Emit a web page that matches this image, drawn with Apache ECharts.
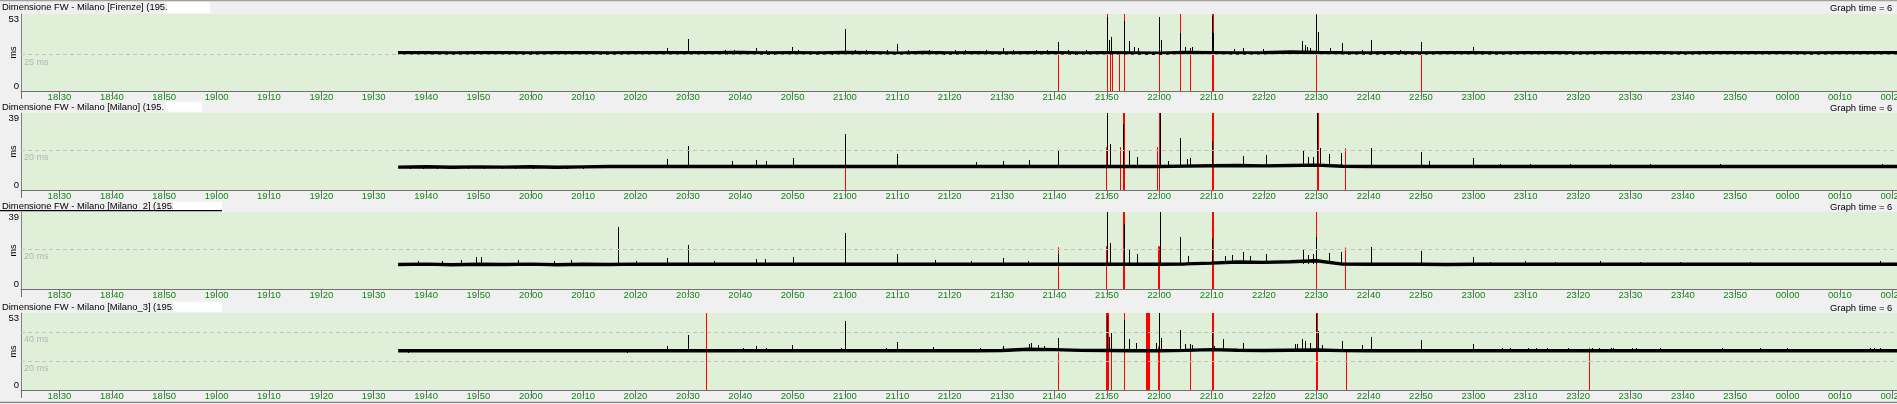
<!DOCTYPE html>
<html><head><meta charset="utf-8">
<script src="https://cdn.jsdelivr.net/npm/echarts@6/dist/echarts.min.js"></script>
<style>html,body{margin:0;padding:0;background:#f0f0f0;overflow:hidden}#c{width:1897px;height:404px}</style>
</head><body><div id="c"></div>
<script>
// ---------- DATA (times in minutes counted from 18:00) ----------
const tickLabels = ["18:30","18:40","18:50","19:00","19:10","19:20","19:30","19:40","19:50","20:00","20:10","20:20","20:30","20:40","20:50","21:00","21:10","21:20","21:30","21:40","21:50","22:00","22:10","22:20","22:30","22:40","22:50","23:00","23:10","23:20","23:30","23:40","23:50","00:00","00:10","00:20"];
const panelTitles = ["Dimensione FW - Milano [Firenze] (195.","Dimensione FW - Milano [Milano] (195.","Dimensione FW - Milano [Milano_2] (195.","Dimensione FW - Milano [Milano_3] (195."];
const graphTimeText = "Graph time = 6";
const panelMax = [53, 39, 39, 53];
const refLines = [[25], [20], [20], [20, 40]];
const axisStart = "18:22:39";
const axisEnd = "00:20:54";

const baseTimes = ["19:34:40","19:40","19:45","19:50","19:55","20:00","20:05","20:10","20:15","20:20","20:25","20:30","20:35","20:40","20:45","20:50","20:55","21:00","21:05","21:10","21:15","21:20","21:25","21:30","21:35","21:40","21:45","21:50","21:55","22:00","22:05","22:10","22:15","22:20","22:25","22:30","22:35","22:40","22:45","22:50","22:55","23:00","23:05","23:10","23:15","23:20","23:25","23:30","23:35","23:40","23:45","23:50","23:55","00:00","00:05","00:10","00:15","00:20","00:25"];

const base1 = [26.3,26.3,26.2,26.3,26.3,26.2,26.3,26.3,26.2,26.3,26.3,26.3,26.3,
  26.5,26.2,26.4,26.2,26.5,26.3,26.1,26.5,26.2,26.4,26.2,26.4,26.3,26.2,26.4,26.2,
  26.0,26.6,26.4,26.2,26.3,26.8,26.5,26.3,26.2,26.3,26.2,26.3,26.3,
  26.2,26.3,26.3,26.2,26.3,26.3,26.3,26.2,26.3,26.3,26.3,26.3,26.2,26.3,26.3,26.3,26.3];
const base2 = [11.6,11.8,11.5,11.7,11.6,11.8,11.5,11.7,11.9,11.9,11.9,11.9,11.9,
  11.9,11.9,11.9,11.9,11.9,11.9,11.9,11.9,11.9,11.9,11.9,11.9,11.9,11.9,11.9,11.9,
  11.9,12.1,12.3,12.4,12.2,12.4,12.6,12.0,11.9,11.9,11.9,11.9,11.9,
  11.9,11.9,11.9,11.9,11.9,11.9,11.9,11.9,11.9,11.9,11.9,11.9,11.9,11.9,11.9,11.9,11.9];
const base3 = [12.4,12.6,12.3,12.5,12.4,12.6,12.3,12.5,12.4,12.6,12.5,12.5,12.5,
  12.5,12.5,12.5,12.5,12.5,12.5,12.5,12.5,12.5,12.5,12.5,12.5,12.5,12.5,12.5,12.5,
  12.5,12.7,13.1,13.7,13.5,13.8,14.3,12.6,12.5,12.5,12.5,12.4,12.5,
  12.5,12.5,12.5,12.5,12.5,12.5,12.5,12.5,12.5,12.5,12.5,12.5,12.5,12.5,12.5,12.5,12.5];
const base4 = [27.0,27.0,27.0,27.0,27.0,27.0,27.0,27.0,27.0,27.0,27.0,27.0,27.0,
  27.0,27.0,27.1,27.0,27.1,27.0,27.1,27.0,27.1,27.0,27.2,28.0,27.8,27.3,27.2,27.0,
  27.0,27.3,27.8,27.4,27.2,27.4,27.5,27.1,27.0,27.0,27.0,27.0,27.0,
  27.0,27.0,27.0,27.0,27.0,27.0,27.0,27.0,27.0,27.0,27.0,27.0,27.0,27.0,27.0,27.0,27.0];

// spikes: [minute, ms]
const spikes1 = [[96.8,27.6],[101.7,27.6],[106.2,27.5],[109.0,27.6],[110.3,27.6],[114.2,27.5],[116.8,27.6],[120.1,27.6],[124.0,27.5],[128.2,27.6],[130.3,27.8],[131.5,27.6],[134.3,27.5],[137.6,27.6],[139.0,27.6],[141.9,27.6],[144.7,27.5],[146.0,29.5],[149.0,27.6],[150.0,35.7],[151.5,27.6],[154.2,27.5],
  [157.1,27.9],[158.8,28.2],[160.1,27.8],[161.0,24.9],[163.1,29.5],[165.0,27.9],[166.5,24.9],[169.9,30.4],[171.0,28.0],[173.0,24.9],[175.0,27.8],[177.5,24.9],[180.0,42.6],[182.0,28.2],[184.0,27.9],[186.0,24.9],[188.0,28.0],[190.0,32.3],[192.0,28.4],[194.0,24.9],[196.0,28.0],[199.0,24.9],[201.0,28.0],[203.0,27.9],[205.0,24.9],[207.0,28.1],[210.1,29.5],[212.0,28.0],[214.0,24.9],[216.5,28.0],[218.5,28.5],[220.7,33.8],
  [222.5,28.0],[224.0,24.9],[226.0,28.0],[228.0,27.8],
  [230.1,51.2],[230.5,35],[230.8,37.3],[233.2,48.4],[234.3,34.6],[235.2,30.5],[236.0,29.5],[240.05,51.1],[240.3,35],[244.0,39.7],[245.0,30],[245.8,29.5],[246.2,30],[250.0,51.8],[250.2,40],[254.2,28.8],[256.1,29.6],[259.9,28.8],[267.35,34.6],[267.9,32],[268.3,30.5],[268.8,29.5],[270.0,52.5],[270.4,40.8],[272.6,29.3],[274.9,33.2],[276.0,24.9],[278.7,28.5],[280.4,35],[283.0,24.9],[286.0,27.9],[290.0,33.9],[293.0,27.8],[296.0,24.9],[300.0,30],
  [303.2,27.6],[305.1,27.6],[307.0,27.5],[309.9,27.6],[310.8,27.6],[313.7,27.5],[315.6,27.6],[318.5,27.6],[320.4,27.5],[324.2,27.6],[326.1,27.6],[329.0,27.5],[331.9,27.6],[333.8,27.6],[335.7,27.5],[339.5,27.6],[347.1,27.5],[352.9,27.5],[377.7,27.6],[379.0,27.6]];
const spikes2 = [[97.0,10.7],[99.5,10.8],[102.0,10.7],[105.5,10.8],[108.0,10.7],[111.0,10.8],[114.5,10.7],[117.0,10.8],[120.5,10.7],[124.0,10.8],[127.0,10.7],[130.0,10.8],
  [146.0,15.5],[150.0,22.2],[158.4,14.8],[163.0,15.2],[165.0,14.5],[170.05,16.1],[180.06,28.5],[189.9,18.3],[205.1,14.3],[210.1,14.5],[215.2,15],[220.6,19.8],[230.1,39],[230.6,23.2],[233.06,33.2],[234.3,19.8],[235.8,16.9],[240.1,39],[241.6,14.5],[244.0,26.3],[245.4,15.5],[245.9,16],[250.1,24.6],[256.0,17.2],[260.4,17.8],[267.4,20.3],[268.5,16.9],[269.3,16.5],[270.2,39],[270.8,21.2],[272.5,18.1],[274.7,18.6],[280.4,21.2],[290.0,19.5],[291.5,14.7],[300.0,16.1],
  [305.1,13.3],[310.8,13.0],[318.5,13.2],[326.1,13.0],[333.8,13.3],[347.1,13.0],[378.0,13.2]];
const spikes3 = [[98.5,14.3],[100.5,11.3],[103.0,14.0],[104.5,11.4],[106.6,14.5],[109.6,16.2],[110.4,16.2],[113.0,11.3],[117.5,14.5],[121.0,11.4],[124.5,14.0],[127.6,14.5],[131.0,11.4],[136.7,31.3],[140.0,14.0],[143.0,11.4],[146.0,15.7],[150.0,22.2],[155.0,14.0],[160.0,11.5],[163.0,15.3],[164.8,15.0],[170.05,16.2],[175.0,11.5],[180.06,28.3],[189.9,17.8],[197.2,14.5],[204.0,14.0],[210.1,15.9],[215.0,14.2],[220.75,17.8],[230.1,38.9],[230.6,23.2],[233.2,33],[234.3,19.9],[235.8,17.8],[240.1,38.9],[244.0,26.3],[245.6,16.5],[250.1,26],[252.5,16.8],[254.0,17],[256.0,18.7],[257.4,16.5],[260.4,17.5],[267.4,20.3],[268.5,17],[269.3,17.5],[270.0,26.3],[272.5,18],[274.7,18.7],[280.4,21.2],[290.0,19.5],[300.0,16.2],
  [303.2,13.8],[309.9,14.0],[315.6,13.8],[324.2,14.0],[331.9,13.7],[339.5,13.9],[352.9,13.7],[377.7,14.0]];
const spikes4 = [[96.6,25.6],[102.1,28.3],[108.6,28.3],[120.1,28.3],[130.1,28.3],[138.4,25.6],[141.5,28.3],[144.7,28.3],[146.0,30.6],[150.0,37.7],[154.3,28.3],[158.4,28.3],[160.5,29],[163.1,30.6],[165.0,29],[166.6,28.5],[169.9,31.3],[176.2,28.3],[179.2,29],[180.06,47.3],[182.9,28.5],[187.8,29],[190.0,32.9],[194.3,28.5],[196.8,29.5],[201.7,28.5],[205.8,29],[210.1,30.6],[215.2,31.5],[215.6,32.3],[216.8,31],[218.0,30.5],[220.7,36],
  [230.0,51.2],[230.5,36.6],[230.75,39.3],[233.2,48.4],[234.3,35.2],[235.6,32.5],[239.4,32.5],[240.05,53],[240.3,36],[244.0,41.6],[245.0,31.5],[245.8,31.5],[246.2,31],[250.0,39.3],[250.4,30],[252.1,34.9],[256.0,32.6],[265.95,32],[266.4,31.5],[267.35,34.9],[267.9,33.4],[268.8,32.6],[270.03,52.5],[270.4,40.9],[271.05,31],[274.9,34],[278.7,31],[280.4,36.4],[290.0,34.2],[300.0,32],
  [305.5,29],[307.0,29],[310.5,29],[312.0,28.8],[314.0,29],[318.1,28.8],[322.7,29],[323.9,29],[326.2,29],[326.7,28.8],[330.3,29],[331.0,29],[335.7,29],[347.5,28.8],[354.8,28.8],[359.9,28.8],[375.7,29],[376.6,29],[377.6,29]];

// red markers: [minute, top ms] (drawn from 0 up to top)
const red1 = [[220.7,24.7],[230.1,53],[230.6,27],[230.95,27],[232.4,24.7],[233.2,53],[240.05,29.3],[244.0,53],[245.8,24.7],[250.0,53],[250.2,53],[270.0,53],[290.0,24.7]];
const red2 = [[180.06,11],[229.8,21.7],[232.5,21.7],[233.0,39],[233.2,39],[239.5,21.7],[240.05,39],[250.0,39],[250.2,39],[270.05,39],[270.25,39],[275.5,21.2]];
const red3 = [[220.75,21.2],[229.8,21.7],[233.0,39],[233.2,39],[239.8,21.7],[240.0,21.7],[250.0,39],[250.2,39],[270.0,39],[275.5,21]];
const red4 = [[153.5,53],[220.7,26],[229.9,53],[230.1,53],[230.3,53],[230.75,27.9],[233.2,53],[237.55,53],[237.75,53],[237.95,53],[238.15,53],[239.85,30],[240.05,30],[245.8,26.7],[250.0,53],[250.2,53],[270.0,53],[270.2,53],[275.6,26.7],[322.0,29]];

const bases = [base1, base2, base3, base4];
const spikes = [spikes1, spikes2, spikes3, spikes4];
const reds = [red1, red2, red3, red4];
const spikeBase = [26.3, 11.9, 12.5, 27.0];

// ---------- LAYOUT ----------
function toMin(s){ const p = s.split(':').map(Number); let h = p[0]; if (h < 18) h += 24; return (h-18)*60 + p[1] + (p[2]||0)/60; }
const FONT = "'Liberation Sans', Arial, sans-serif";
const tops = [14, 113, 212, 313];
const H = 77;
const titleY = [7.5, 107, 206.5, 307];
const tickVals = tickLabels.map(toMin);
const labelMap = {}; tickLabels.forEach((l,i)=>{ labelMap[tickVals[i].toFixed(2)] = l; });
const xMin = toMin(axisStart), xMax = toMin(axisEnd);

const grid = [], xAxis = [], yAxis = [], series = [], graphic = [];
for (let i = 0; i < 4; i++) {
  grid.push({left: 21, right: 0, top: tops[i], height: H, show: true, backgroundColor: '#e0f0d8', borderWidth: 0,
    containLabel: false, outerBoundsMode: 'none'});
  xAxis.push({type: 'value', gridIndex: i, min: xMin, max: xMax,
    axisLine: {show: true, lineStyle: {color: '#707070', width: 1}},
    axisTick: {show: true, length: 8, customValues: [xMin].concat(tickVals), lineStyle: {color: '#707070'}},
    axisLabel: {customValues: tickVals, color: '#0a8a0a', fontSize: 9.5, fontFamily: FONT, margin: 1,
      formatter: v => labelMap[Number(v).toFixed(2)] || ''},
    splitLine: {show: false}});
  yAxis.push({type: 'value', gridIndex: i, min: 0, max: panelMax[i], interval: panelMax[i],
    name: 'ms', nameLocation: 'middle', nameRotate: 90, nameGap: 3, nameMoveOverlap: false,
    nameTextStyle: {fontSize: 9, color: '#000', fontFamily: FONT},
    axisLine: {show: true, lineStyle: {color: '#808080'}},
    axisTick: {show: false},
    axisLabel: {fontSize: 9.5, color: '#000', fontFamily: FONT, margin: 2,
      verticalAlignMinLabel: 'bottom', verticalAlignMaxLabel: 'top'},
    splitLine: {show: false}});
  series.push({type: 'line', xAxisIndex: i, yAxisIndex: i, data: [], z: 1, silent: true,
    markLine: {silent: true, symbol: ['none','none'], animation: false,
      lineStyle: {type: [4,3], color: '#c2c2c2', width: 1},
      label: {show: true, position: 'insideStartBottom', formatter: p => p.value + ' ms',
        color: '#b4b4b4', fontSize: 9, fontFamily: FONT, distance: [3, 3]},
      data: refLines[i].map(v => ({yAxis: v}))}});
  series.push({type: 'custom', xAxisIndex: i, yAxisIndex: i, z: 2, clip: true, silent: true,
    encode: {x: 0, y: 1}, data: reds[i],
    renderItem: (params, api) => {
      const a = api.coord([api.value(0), 0]), b = api.coord([api.value(0), api.value(1)]);
      return {type: 'rect', shape: {x: Math.round(a[0]), y: b[1], width: 1, height: a[1] - b[1]}, style: {fill: '#ff0000'}};
    }});
  series.push({type: 'line', xAxisIndex: i, yAxisIndex: i, z: 3, clip: true, silent: true,
    data: baseTimes.map((t,k) => [toMin(t), bases[i][k]]),
    showSymbol: false, symbol: 'none', lineStyle: {color: '#000', width: 3.4}, animation: false});
  const sb = spikeBase[i];
  series.push({type: 'custom', xAxisIndex: i, yAxisIndex: i, z: 4, clip: true, silent: true,
    encode: {x: 0, y: 1}, data: spikes[i],
    renderItem: (params, api) => {
      const a = api.coord([api.value(0), sb]), b = api.coord([api.value(0), api.value(1)]);
      return {type: 'rect', shape: {x: Math.round(a[0]), y: Math.round(Math.min(a[1], b[1])), width: 1, height: Math.round(Math.abs(a[1] - b[1]))}, style: {fill: '#000'}};
    }});
  graphic.push({type: 'text', x: 2, y: titleY[i], z: 10,
    style: {text: panelTitles[i], fontSize: 9.4, fontFamily: FONT, fill: '#000', verticalAlign: 'middle'}});
  graphic.push({type: 'text', x: 1830, y: titleY[i] + 1, z: 10,
    style: {text: graphTimeText, fontSize: 9.4, fontFamily: FONT, fill: '#000', verticalAlign: 'middle'}});
}
// masking boxes over the IP addresses
graphic.push({type: 'rect', shape: {x: 167, y: 1.7, width: 43, height: 11.6}, style: {fill: '#fff'}, z: 11});
graphic.push({type: 'rect', shape: {x: 166, y: 101.7, width: 36, height: 10}, style: {fill: '#fff'}, z: 11});
graphic.push({type: 'rect', shape: {x: 173, y: 201.7, width: 49, height: 8.5}, style: {fill: '#fff'}, z: 11});
graphic.push({type: 'rect', shape: {x: 0, y: 210, width: 222, height: 1.3}, style: {fill: '#000'}, z: 11});
graphic.push({type: 'rect', shape: {x: 173, y: 301.7, width: 49, height: 10}, style: {fill: '#fff'}, z: 11});
graphic.push({type: 'rect', shape: {x: 0, y: 0, width: 1897, height: 1.3}, style: {fill: '#a0a0a0'}, z: 11});
graphic.push({type: 'rect', shape: {x: 0, y: 401.7, width: 1897, height: 1.3}, style: {fill: '#808080'}, z: 11});

const chart = echarts.init(document.getElementById('c'), null, {renderer: 'canvas'});
chart.setOption({backgroundColor: '#f0f0f0', animation: false, grid, xAxis, yAxis, series, graphic});
</script></body></html>
